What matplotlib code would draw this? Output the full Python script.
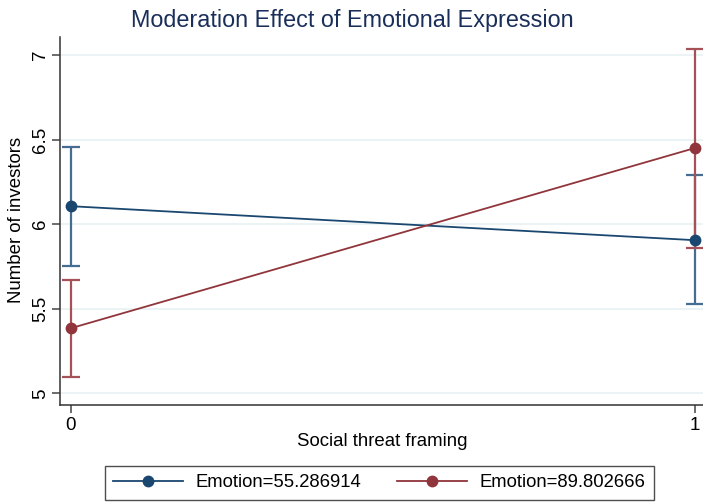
import matplotlib
matplotlib.use("Agg")
import matplotlib.pyplot as plt
from matplotlib.lines import Line2D

plt.rcParams['font.family'] = ['Liberation Sans', 'DejaVu Sans']

# Predicted number of investors by social threat framing, at two emotion levels
framing = [0, 1]
series_labels = ["Emotion=55.286914", "Emotion=89.802666"]
means_low = [6.106, 5.905]
lower_low = [5.750, 5.525]
upper_low = [6.457, 6.290]
means_high = [5.385, 6.450]
lower_high = [5.095, 5.860]
upper_high = [5.670, 7.035]

yticks = [5, 5.5, 6, 6.5, 7]
ytick_labels = ["5", "5.5", "6", "6.5", "7"]
xticks = [0, 1]
xtick_labels = ["0", "1"]

title = "Moderation Effect of Emotional Expression"
xlabel = "Social threat framing"
ylabel = "Number of investors"

navy = "#1a476f"
maroon = "#90353b"
navy_ci = "#456d92"
maroon_ci = "#a55158"

W, H = 703, 504
fig = plt.figure(figsize=(W / 100, H / 100), dpi=100)
ax = fig.add_axes([60 / W, 1 - 405 / H, (703 - 60) / W, (405 - 37) / H])

series = [
    (means_low, lower_low, upper_low, navy, navy_ci),
    (means_high, lower_high, upper_high, maroon, maroon_ci),
]
for means, lo, hi, col, cicol in series:
    yerr = [[m - l for m, l in zip(means, lo)], [h - m for h, m in zip(hi, means)]]
    ax.errorbar(framing, means, yerr=yerr, fmt='none', ecolor=cicol,
                elinewidth=1.6, capsize=6.5, capthick=1.6, zorder=2)
for means, lo, hi, col, cicol in series:
    ax.plot(framing, means, color=col, lw=1.3, marker='o', markersize=8.5,
            markeredgewidth=0, zorder=3)

ax.set_xlim(-0.0176, 1.0128)
ax.set_ylim(4.931, 7.106)
ax.set_yticks(yticks)
ax.set_yticklabels(ytick_labels, rotation=90, va='center', fontsize=13.5)
ax.set_xticks(xticks)
ax.set_xticklabels(xtick_labels, fontsize=13.5)
ax.tick_params(axis='both', direction='out', length=5.5, width=1.1, color='#444444')
ax.tick_params(axis='y', pad=2.5)
ax.tick_params(axis='x', pad=3)
ax.grid(axis='y', color='#eaf2f3', lw=1.3, zorder=0)
ax.set_axisbelow(True)
for s in ['top', 'right']:
    ax.spines[s].set_visible(False)
for s in ['left', 'bottom']:
    ax.spines[s].set_color('#333333')
    ax.spines[s].set_linewidth(1.1)

fig.text(352 / W, 1 - 20 / H, title, ha='center', va='center', fontsize=16.8, color='#1a2e5a')
fig.text(382 / W, 1 - 441 / H, xlabel, ha='center', va='center', fontsize=13.4)
fig.text(17 / W, 1 - 220 / H, ylabel, ha='center', va='center', rotation=90, fontsize=13.4)

handles = [Line2D([], [], color=c, lw=1.3, marker='o', markersize=8.5, markeredgewidth=0)
           for c in (navy, maroon)]
leg = fig.legend(handles, series_labels, ncol=2, loc='upper left',
                 bbox_to_anchor=(105 / W, 1 - 466 / H), borderaxespad=0,
                 fontsize=13.3, frameon=True, fancybox=False, edgecolor='#222222',
                 handlelength=3.75, handletextpad=0.7, columnspacing=1.95,
                 borderpad=0.45, markerscale=1.0)
leg.get_frame().set_linewidth(1.0)

fig.savefig("out.png", dpi=100, facecolor='white')
